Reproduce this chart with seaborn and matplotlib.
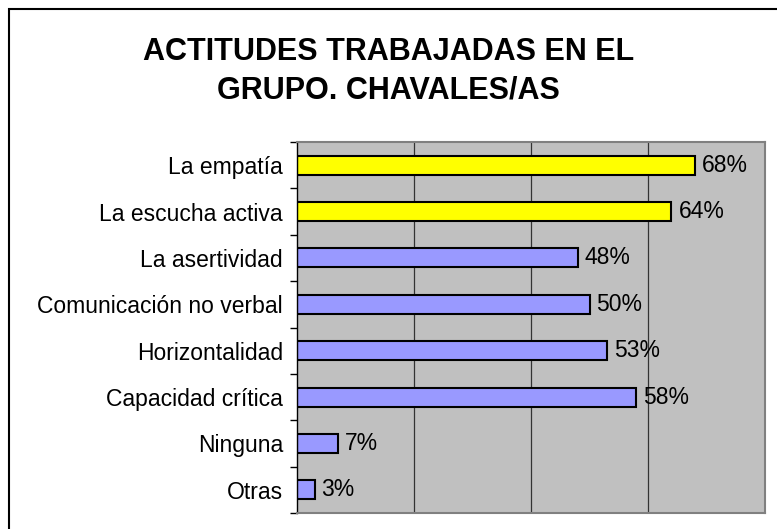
import seaborn as sns
import matplotlib.pyplot as plt
import pandas as pd
from matplotlib.patches import Rectangle

# data
categorias = ["La empatía", "La escucha activa", "La asertividad", "Comunicación no verbal",
              "Horizontalidad", "Capacidad crítica", "Ninguna", "Otras"]
porcentajes = [68, 64, 48, 50, 53, 58, 7, 3]
colores = ["#FFFF00", "#FFFF00", "#9999FF", "#9999FF", "#9999FF", "#9999FF", "#9999FF", "#9999FF"]

df = pd.DataFrame({"actitud": categorias, "pct": porcentajes})

sns.set_theme(style="white")
plt.rcParams['font.family'] = ['Liberation Sans', 'DejaVu Sans']

fig = plt.figure(figsize=(7.77, 5.29), dpi=100)
ax = fig.add_axes([297 / 777, 1 - 513 / 529, (765 - 297) / 777, (513 - 142) / 529])
ax.set_facecolor("#C0C0C0")

sns.barplot(data=df, x="pct", y="actitud", hue="actitud", palette=colores,
            orient="h", width=0.41, edgecolor="black", linewidth=1.5,
            saturation=1, legend=False, ax=ax)

ax.set_xlim(0, 80)
ax.set_ylim(len(categorias) - 0.5, -0.5)
for g in [20, 40, 60]:
    ax.axvline(g, color="#333333", linewidth=0.9, zorder=0)

for i, v in enumerate(porcentajes):
    ax.text(v + 1.2, i, f"{v}%", va="center", ha="left", fontsize=16.5, color="black")

ax.set_xticks([])
ax.set_yticks(range(len(categorias)))
ax.set_yticklabels(categorias, fontsize=16.5, color="black")
ax.set_yticks([i - 0.5 for i in range(len(categorias) + 1)], minor=True)
ax.tick_params(axis="y", which="major", length=0, pad=10)
ax.tick_params(axis="y", which="minor", length=5, width=1, color="black", left=True)
ax.set_xlabel("")
ax.set_ylabel("")

for s in ["top", "right", "bottom"]:
    ax.spines[s].set_color("#808080")
    ax.spines[s].set_linewidth(1.5)
ax.spines["left"].set_color("black")
ax.spines["left"].set_linewidth(1)

fig.text(0.5, 0.865, "ACTITUDES TRABAJADAS EN EL\nGRUPO. CHAVALES/AS", ha="center", va="center",
         fontsize=22, fontweight="bold", linespacing=1.38, color="black")

fig.add_artist(Rectangle((8.5 / 777, -0.1), 1.2, 1.1 - 9 / 529, transform=fig.transFigure,
                         fill=False, edgecolor="black", linewidth=1.5, clip_on=False))

plt.savefig("out.png", dpi=100)
